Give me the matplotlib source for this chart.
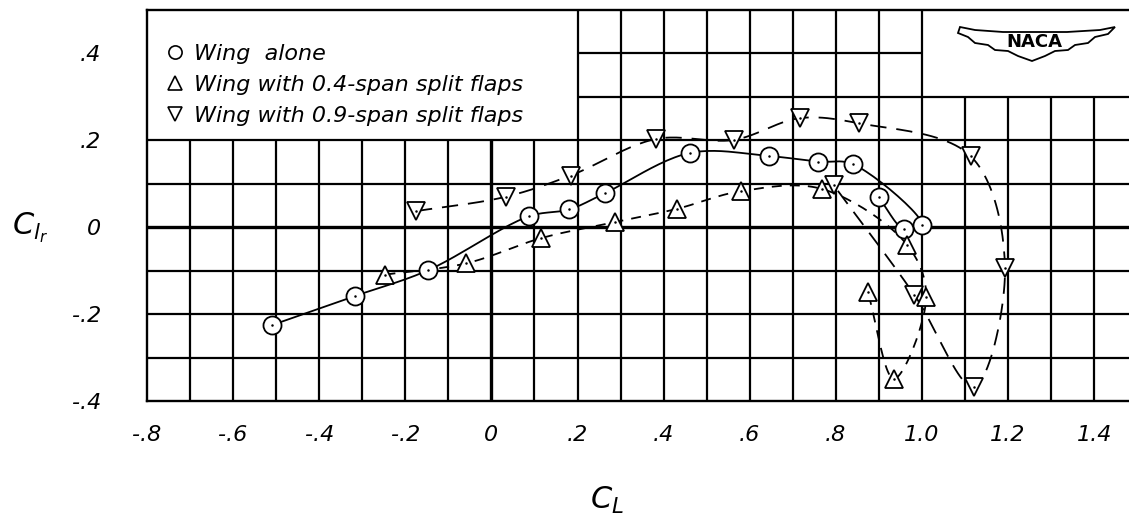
import numpy as np
import matplotlib
matplotlib.use("Agg")
import matplotlib.pyplot as plt
from matplotlib.path import Path
from matplotlib.patches import PathPatch
from matplotlib.lines import Line2D

# ---------------- data ----------------
wing_alone_cl = [-0.509, -0.316, -0.147, 0.087, 0.181, 0.265, 0.461, 0.644,
                 0.759, 0.840, 1.000, 0.958, 0.900]
wing_alone_clr = [-0.225, -0.158, -0.099, 0.025, 0.041, 0.079, 0.171, 0.164,
                  0.151, 0.145, 0.006, -0.004, 0.069]

flap04_cl = [-0.246, -0.058, 0.116, 0.288, 0.430, 0.580, 0.768, 0.965,
             1.010, 0.935, 0.874]
flap04_clr = [-0.109, -0.083, -0.025, 0.012, 0.042, 0.083, 0.088, -0.040,
              -0.161, -0.349, -0.148]

flap09_cl = [-0.175, 0.033, 0.184, 0.382, 0.563, 0.716, 0.855, 1.113,
             1.193, 1.120, 0.982, 0.795]
flap09_clr = [0.037, 0.070, 0.119, 0.203, 0.201, 0.251, 0.239, 0.164,
              -0.094, -0.367, -0.155, 0.097]

x_ticks = [-0.8, -0.6, -0.4, -0.2, 0.0, 0.2, 0.4, 0.6, 0.8, 1.0, 1.2, 1.4]
x_tick_labels = ["-.8", "-.6", "-.4", "-.2", "0", ".2", ".4", ".6", ".8",
                 "1.0", "1.2", "1.4"]
y_ticks = [-0.4, -0.2, 0.0, 0.2, 0.4]
y_tick_labels = ["-.4", "-.2", "0", ".2", ".4"]
legend_labels = ["Wing  alone", "Wing with 0.4-span split flaps",
                 "Wing with 0.9-span split flaps"]

# ---------------- helpers ----------------
def faired(x, y, n=24):
    """Centripetal Catmull-Rom curve through the measured points."""
    P = np.column_stack([x, y]).astype(float)
    P = np.vstack([2 * P[0] - P[1], P, 2 * P[-1] - P[-2]])
    xs, ys = [], []
    for i in range(1, len(P) - 2):
        p0, p1, p2, p3 = P[i - 1], P[i], P[i + 1], P[i + 2]
        t0 = 0.0
        t1 = t0 + np.linalg.norm(p1 - p0) ** 0.5
        t2 = t1 + np.linalg.norm(p2 - p1) ** 0.5
        t3 = t2 + np.linalg.norm(p3 - p2) ** 0.5
        t = np.linspace(t1, t2, n)[:, None]
        A1 = (t1 - t) / (t1 - t0) * p0 + (t - t0) / (t1 - t0) * p1
        A2 = (t2 - t) / (t2 - t1) * p1 + (t - t1) / (t2 - t1) * p2
        A3 = (t3 - t) / (t3 - t2) * p2 + (t - t2) / (t3 - t2) * p3
        B1 = (t2 - t) / (t2 - t0) * A1 + (t - t0) / (t2 - t0) * A2
        B2 = (t3 - t) / (t3 - t1) * A2 + (t - t1) / (t3 - t1) * A3
        C = (t2 - t) / (t2 - t1) * B1 + (t - t1) / (t2 - t1) * B2
        xs.extend(C[:, 0]); ys.extend(C[:, 1])
    return xs, ys

FONT = "DejaVu Sans"
plt.rcParams["mathtext.fontset"] = "dejavusans"

W, H = 1129, 521
fig = plt.figure(figsize=(W / 100, H / 100), dpi=100)
left_px, right_px, top_px, bot_px = 147, 1129, 10, 401
ax = fig.add_axes([left_px / W, 1 - bot_px / H, (right_px - left_px) / W,
                   (bot_px - top_px) / H])
xmin = -0.8
xmax = xmin + (right_px - left_px) / 430.5
ax.set_xlim(xmin, xmax)
ax.set_ylim(-0.4, 0.5)

# ---------------- grid (partial, like the printed chart paper) ----------------
glw = 1.6
gx = np.round(np.arange(-0.7, 1.45, 0.1), 2)
for xv in gx:
    if xv <= 0.15:
        top = 0.2
    elif xv <= 1.05:
        top = 0.5
    else:
        top = 0.3
    ax.vlines(xv, -0.4, top, color="black", lw=2.4 if abs(xv) < 1e-9 else glw,
              zorder=1)
for yv in np.round(np.arange(-0.3, 0.45, 0.1), 2):
    if yv <= 0.25:
        x0, x1 = xmin, xmax
    elif yv <= 0.35:
        x0, x1 = 0.2, xmax
    else:
        x0, x1 = 0.2, 1.0
    ax.hlines(yv, x0, x1, color="black", lw=2.4 if abs(yv) < 1e-9 else glw,
              zorder=1)

for s in ["left", "top", "bottom"]:
    ax.spines[s].set_linewidth(1.7)
ax.spines["right"].set_visible(False)

# ---------------- curves ----------------
lw = 1.3
xs, ys = faired(wing_alone_cl, wing_alone_clr)
ax.plot(xs, ys, color="black", lw=lw, zorder=2)
xs, ys = faired(flap04_cl, flap04_clr)
ax.plot(xs, ys, color="black", lw=lw, ls=(0, (5.5, 4.5)), zorder=2)
xs, ys = faired(flap09_cl, flap09_clr)
ax.plot(xs, ys, color="black", lw=lw, ls=(0, (9, 5.5)), zorder=2)

mk = dict(mfc="white", mec="black", mew=1.3, ls="none", zorder=3)
ax.plot(wing_alone_cl, wing_alone_clr, marker="o", ms=13, **mk)
ax.plot(flap04_cl, flap04_clr, marker="^", ms=13, **mk)
ax.plot(flap09_cl, flap09_clr, marker="v", ms=13, **mk)
for cx, cy in [(wing_alone_cl, wing_alone_clr), (flap04_cl, flap04_clr),
               (flap09_cl, flap09_clr)]:
    ax.plot(cx, cy, ls="none", marker=".", ms=1.6, color="black", zorder=4)

# ---------------- ticks ----------------
ax.set_xticks(x_ticks)
ax.set_xticklabels(x_tick_labels, fontsize=16, fontstyle="italic", family=FONT)
ax.set_yticks(y_ticks)
ax.set_yticklabels(y_tick_labels, fontsize=16, fontstyle="italic", family=FONT)
ax.tick_params(axis="x", length=0, pad=17)
ax.tick_params(axis="y", length=0, pad=33)

# ---------------- legend ----------------
handles = [Line2D([], [], marker=m, ms=9.5, mfc="white", mec="black", mew=1.2,
                  ls="none") for m in ["o", "^", "v"]]
leg = ax.legend(handles, legend_labels, loc="upper left",
                bbox_to_anchor=(0.0, 0.962), frameon=False, handlelength=0.8,
                handletextpad=0.45, labelspacing=0.5, borderaxespad=0.45,
                prop=dict(family=FONT, style="italic", size=16))

# ---------------- axis labels ----------------
fig.text(607 / W, 1 - 500 / H, r"$C_L$", fontsize=22, ha="center", va="center")
fig.text(30 / W, 1 - 228 / H, r"$C_{l_r}$", fontsize=22, ha="center",
         va="center")

# ---------------- NACA emblem ----------------
def fx(px):
    return px / W

def fy(py):
    return 1 - py / H

wing = [(960, 27), (975, 30), (1003, 32), (1067, 32), (1100, 30), (1115, 27),
        (1108, 34), (1095, 37), (1088, 43), (1075, 45), (1068, 50), (1055, 51),
        (1045, 56), (1032, 61), (1018, 56), (1008, 51), (995, 50), (988, 45),
        (975, 43), (968, 37), (958, 33), (960, 27)]
verts = [(fx(a), fy(b)) for a, b in wing]
codes = [Path.MOVETO] + [Path.LINETO] * (len(verts) - 2) + [Path.CLOSEPOLY]
fig.patches.append(PathPatch(Path(verts, codes), transform=fig.transFigure,
                             facecolor="white", edgecolor="black", lw=1.3,
                             zorder=5))
fig.text(fx(1034), fy(42), "NACA", fontsize=13, fontweight="bold",
         family=FONT, ha="center", va="center", zorder=6)

fig.savefig("out.png", dpi=100)
